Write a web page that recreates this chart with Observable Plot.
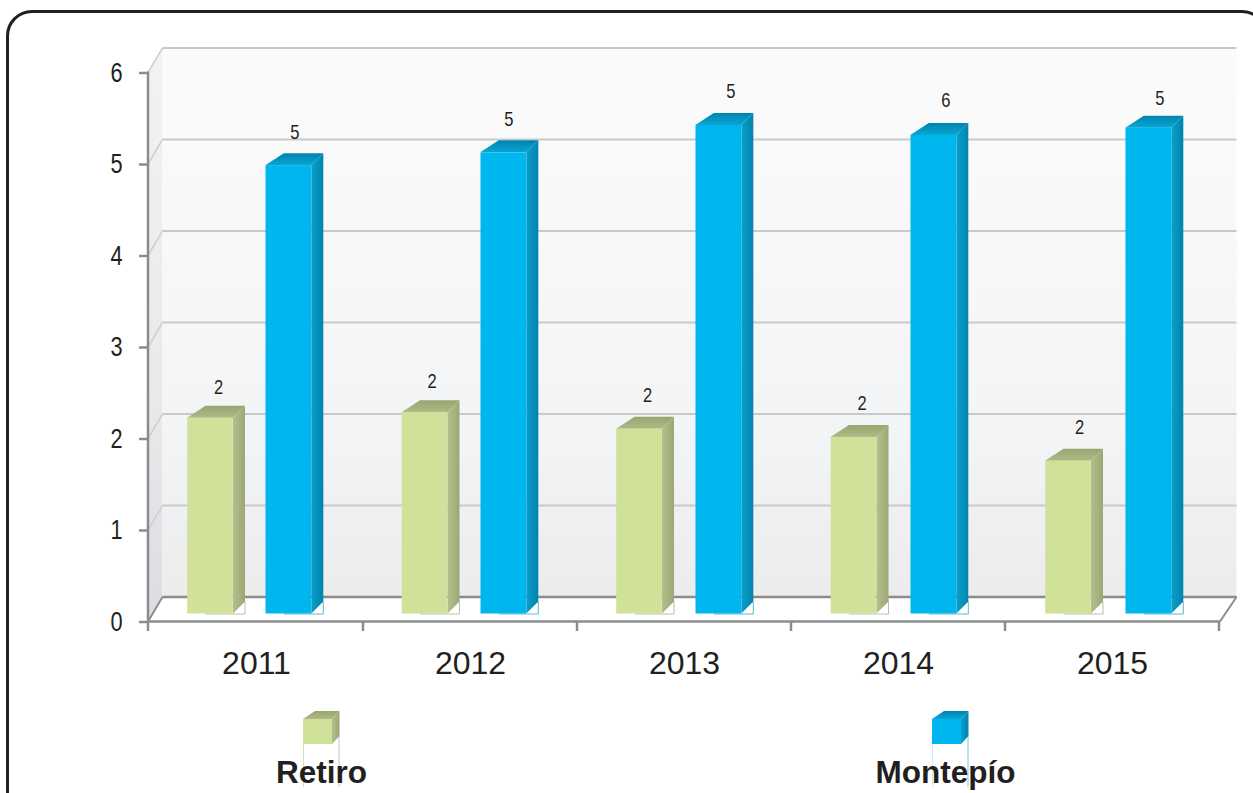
<!DOCTYPE html>
<html><head><meta charset="utf-8">
<script src="https://cdn.jsdelivr.net/npm/d3@7"></script>
<script src="https://cdn.jsdelivr.net/npm/@observablehq/plot@0.6"></script>
<style>
html,body{margin:0;padding:0;background:#fff;overflow:hidden;width:1253px;height:793px}
#frame{position:absolute;left:6px;top:10px;width:1262px;height:812px;border:3px solid #231f20;border-radius:26px;box-sizing:border-box;pointer-events:none}
#chart{position:absolute;left:0;top:0}
svg{display:block;overflow:hidden}
</style></head><body>
<div id="frame"></div><div id="chart"></div>
<script>
const years = ["2011","2012","2013","2014","2015"];
const retiro = [2.14,2.20,2.02,1.93,1.67];
const montepio = [4.90,5.04,5.34,5.23,5.31];
const retiroLabels = ["2","2","2","2","2"];
const montepioLabels = ["5","5","5","6","5"];
const legendNames = ["Retiro","Montepío"];

const wall = {dx:14.5, dy:-24.5};
const depth = {dx:12, dy:-12, topLeft:18.5};
const baseLift = -8, barW = 46;
const labelNudge = {
  Retiro:{x:[0,-1,0,0,3],y:[0,0,-3,-3,-3]},
  "Montepío":{x:[-2,-3,4,4,3],y:[0,-1,-1,-2,3]}
};
const styles = {
  Retiro:{face:"#d0e29a", side:"url(#gSideG)", top:"url(#gTopG)", edge:"#b9bfa6", leg:"#d6e2ae", legR:"#c4c4c4", off:-46, drift:.5},
  "Montepío":{face:"#00b6ef", side:"url(#gSideB)", top:"url(#gTopB)", edge:"#5cb8d2", leg:"#c8ecf7", legR:"#86c8dc", off:32.3, drift:1}
};
const rows = years.flatMap((year,i)=>[
  {year,i,series:"Retiro",value:retiro[i],label:retiroLabels[i]},
  {year,i,series:"Montepío",value:montepio[i],label:montepioLabels[i]}
]);
const offset = d => styles[d.series].off + styles[d.series].drift*d.i;

function grad(defs,id,stops,x2=0,y2=1){
  const g=defs.append("linearGradient").attr("id",id).attr("x1",0).attr("y1",0).attr("x2",x2).attr("y2",y2);
  stops.forEach(([o,c])=>g.append("stop").attr("offset",o).attr("stop-color",c));
}
const poly=(g,pts,fill)=>g.append("polygon").attr("points",pts.map(p=>p.join(",")).join(" ")).attr("fill",fill);
const line=(g,a,b,stroke,w)=>g.append("line").attr("x1",a[0]).attr("y1",a[1]).attr("x2",b[0]).attr("y2",b[1]).attr("stroke",stroke).attr("stroke-width",w);

// walls, floor and their lines
const shell=(index,{x,y},v,dim)=>{
  const g=d3.create("svg:g");
  const defs=g.append("defs");
  grad(defs,"gBack",[[0,"#fbfbfb"],[.35,"#f8f8f8"],[.7,"#f3f4f6"],[1,"#ececed"]]);
  grad(defs,"gLeft",[[0,"#f1f2f4"],[.6,"#e9eaec"],[1,"#dcdde0"]]);
  grad(defs,"gSideG",[[0,"#b4c08c"],[1,"#9ba873"]],1,0);
  grad(defs,"gTopG",[[0,"#98a56f"],[1,"#adba87"]]);
  grad(defs,"gSideB",[[0,"#0aa0ca"],[1,"#0083ae"]],1,0);
  grad(defs,"gTopB",[[0,"#0083ae"],[1,"#09a6d4"]]);
  const L=dim.marginLeft,R=dim.width-dim.marginRight,y0=y(0),y6=y(6),{dx,dy}=wall;
  poly(g,[[L,y6],[L+dx,y6+dy],[L+dx,y0+dy],[L,y0]],"url(#gLeft)");
  g.append("rect").attr("x",L+dx).attr("y",y6+dy).attr("width",R-L+2).attr("height",y0-y6).attr("fill","url(#gBack)");
  for(let t=1;t<=6;t++){
    line(g,[L+dx,y(t)+dy],[R+dx+2,y(t)+dy],"#c9c9c9",2);
    line(g,[L,y(t)],[L+dx,y(t)+dy],"#cfcfcf",1.5);
  }
  const ax="#8a8c8e";
  line(g,[L+dx,y0+dy],[R+dx+2,y0+dy],ax,2.5);
  line(g,[L,y0],[L+dx,y0+dy],ax,2);
  line(g,[R,y0],[R+dx+2,y0+dy],ax,2);
  line(g,[L,y6-1],[L,y0+9.5],ax,2.5);
  line(g,[L,y0],[R,y0],ax,2.5);
  const step=x.bandwidth();
  years.forEach((yr)=>line(g,[x(yr)+step,y0],[x(yr)+step,y0+9.5],ax,2.5));
  return g.node();
};

// side + top faces, and footprint of each bar
const faces=(index,{x,y})=>{
  const g=d3.create("svg:g");
  const step=x.bandwidth();
  rows.forEach(d=>{
    const s=styles[d.series];
    const l=x(d.year)+step/2+offset(d)-barW/2, r=l+barW, b=y(0)+baseLift, t=y(d.value)+baseLift;
    const {dx,dy,topLeft}=depth;
    line(g,[l+topLeft,b+.5],[r+dx,b+.5],s.edge,1);
    line(g,[r+dx,b+dy],[r+dx,b+.5],s.edge,1);
    poly(g,[[r,t],[r+dx,t+dy],[r+dx,b+dy],[r,b]],s.side);
    poly(g,[[l,t],[l+topLeft,t+dy],[r+dx,t+dy],[r,t]],s.top);
  });
  return g.node();
};

// legend swatches
const legendCubes=()=>{
  const g=d3.create("svg:g");
  [[303,"Retiro"],[932,"Montepío"]].forEach(([x,name])=>{
    const s=styles[name];
    line(g,[x+.5,744],[x+.5,787],s.leg,1);
    line(g,[x+36,736],[x+36,787],s.legR,1);
    poly(g,[[x+29,719],[x+36.5,711],[x+36.5,736],[x+29,744]],s.side);
    poly(g,[[x,719],[x+12,711],[x+36.5,711],[x+29,719]],s.top);
    g.append("rect").attr("x",x).attr("y",719).attr("width",29).attr("height",25).attr("fill",s.face);
  });
  return g.node();
};

const sans='"Liberation Sans",Arial,sans-serif';
const ink="#231f20";

const plot=Plot.plot({
  width:1253,height:793,
  marginLeft:148,marginRight:33,marginTop:72.5,marginBottom:171.5,
  style:{background:"transparent"},
  x:{type:"band",domain:years,padding:0,label:null},
  y:{domain:[0,6],label:null},
  marks:[
    shell,
    faces,
    ...rows.flatMap(d=>{
      const s=styles[d.series], n=labelNudge[d.series];
      return [
        Plot.barY([d],{x:"year",y:"value",fill:s.face,
          insetLeft:(214.4-barW)/2,insetRight:(214.4-barW)/2,
          dx:offset(d),dy:baseLift}),
        Plot.text([d],{x:"year",y:"value",text:"label",
          dx:offset(d)+8+n.x[d.i],dy:baseLift-(d.series==="Retiro"?31:33)+n.y[d.i],
          fontSize:21,fontFamily:sans,fill:ink})
      ];
    }),
    Plot.axisY({ticks:[0,1,2,3,4,5,6],tickSize:9,tickFormat:()=>"",stroke:"#8a8c8e",strokeWidth:2.5}),
    Plot.axisY({ticks:[0,1,2,3,4,5,6],tickSize:0,tickPadding:26,fontSize:27.5,fontFamily:sans,color:ink,label:null,tickFormat:d3.format("d")}),
    Plot.axisX({tickSize:0,tickPadding:29,fontSize:32,fontFamily:sans,color:ink,label:null}),
    legendCubes,
    Plot.text([legendNames[0]],{text:d=>d,frameAnchor:"top-left",lineAnchor:"middle",dx:321-148,dy:772.5-72.5,textAnchor:"middle",fontSize:31.5,fontWeight:"bold",fontFamily:sans,fill:ink}),
    Plot.text([legendNames[1]],{text:d=>d,frameAnchor:"top-left",lineAnchor:"middle",dx:945-148,dy:772.5-72.5,textAnchor:"middle",fontSize:31.5,fontWeight:"bold",fontFamily:sans,fill:ink})
  ]
});
document.getElementById("chart").appendChild(plot);
// the reference sets its single digits in a condensed face
d3.select(plot).selectAll("text").each(function(){
  if(this.textContent.length!==1) return;
  const fs=+this.closest("[font-size]").getAttribute("font-size");
  this.setAttribute("textLength",(fs*0.44).toFixed(1));
  this.setAttribute("lengthAdjust","spacingAndGlyphs");
});
</script>
</body></html>
